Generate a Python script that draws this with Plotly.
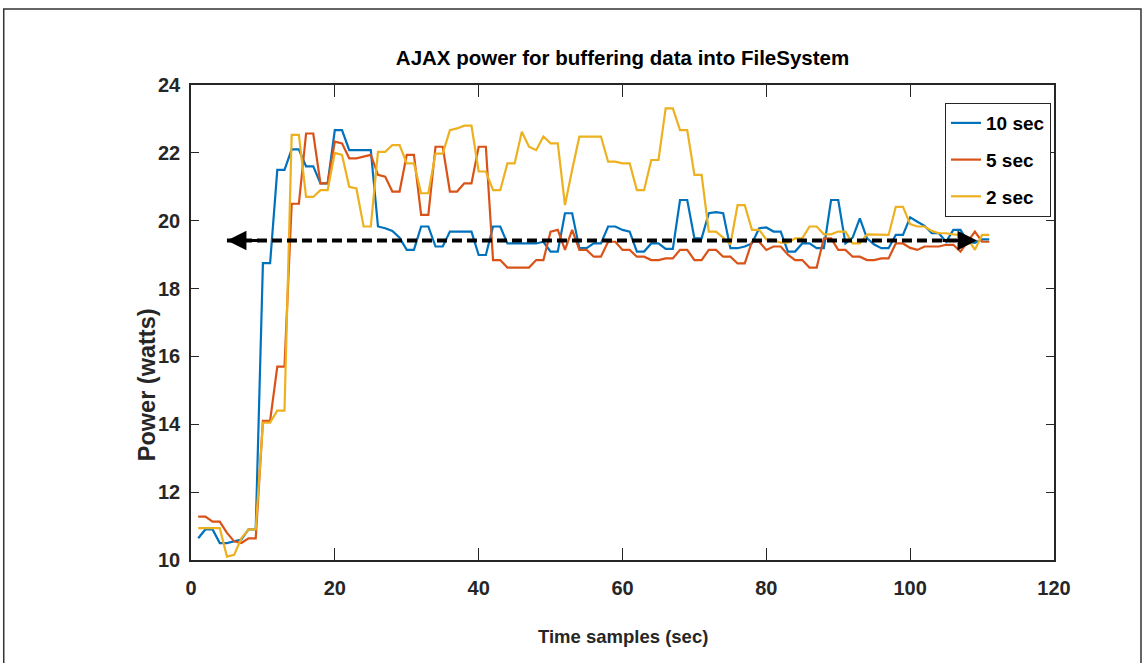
import plotly.graph_objects as go

t = list(range(1, 112))

p10 = [10.64, 10.9, 10.9, 10.5, 10.5, 10.55, 10.6, 10.9, 10.9, 18.75,
       18.75, 21.5, 21.5, 22.1, 22.1, 21.6, 21.6, 21.1, 21.1, 22.67,
       22.67, 22.08, 22.08, 22.08, 22.08, 19.83, 19.78, 19.7, 19.5, 19.14,
       19.14, 19.83, 19.83, 19.24, 19.24, 19.68, 19.68, 19.68, 19.68, 18.99,
       18.99, 19.83, 19.83, 19.33, 19.33, 19.33, 19.33, 19.33, 19.38, 19.09,
       19.09, 20.22, 20.22, 19.19, 19.19, 19.33, 19.33, 19.83, 19.83, 19.73,
       19.68, 19.09, 19.09, 19.33, 19.33, 19.17, 19.17, 20.61, 20.61, 19.48,
       19.48, 20.22, 20.25, 20.22, 19.19, 19.19, 19.24, 19.33, 19.78, 19.8,
       19.68, 19.68, 19.09, 19.09, 19.33, 19.33, 19.19, 19.19, 20.61, 20.61,
       19.33, 19.5, 20.07, 19.48, 19.3, 19.19, 19.19, 19.58, 19.58, 20.1,
       19.97, 19.85, 19.63, 19.63, 19.38, 19.73, 19.73, 19.38, 19.35, 19.45,
       19.45]

p5 = [11.28, 11.28, 11.13, 11.13, 10.8, 10.55, 10.5, 10.64, 10.64, 14.1,
      14.1, 15.7, 15.7, 20.5, 20.5, 22.57, 22.57, 21.1, 21.1, 22.33,
      22.28, 21.84, 21.84, 21.9, 21.94, 21.35, 21.3, 20.86, 20.86, 21.94,
      21.94, 20.17, 20.17, 22.18, 22.18, 20.86, 20.86, 21.1, 21.1, 22.18,
      22.18, 18.84, 18.84, 18.62, 18.62, 18.62, 18.62, 18.84, 18.84, 19.68,
      19.73, 19.14, 19.73, 19.14, 19.14, 18.94, 18.94, 19.38, 19.38, 19.14,
      19.14, 18.94, 18.94, 18.84, 18.84, 18.89, 18.89, 19.14, 19.14, 18.84,
      18.84, 19.14, 19.14, 18.94, 18.94, 18.74, 18.74, 19.38, 19.38, 19.14,
      19.24, 19.24, 19.0, 18.84, 18.84, 18.62, 18.62, 19.48, 19.48, 19.14,
      19.14, 18.94, 18.94, 18.84, 18.84, 18.89, 18.89, 19.33, 19.33, 19.2,
      19.14, 19.24, 19.24, 19.24, 19.29, 19.29, 19.09, 19.4, 19.68, 19.38,
      19.38]

p2 = [10.94, 10.94, 10.94, 10.94, 10.1, 10.15, 10.64, 10.9, 10.9, 14.05,
      14.05, 14.4, 14.4, 22.53, 22.53, 20.7, 20.7, 20.9, 20.9, 22.0,
      21.94, 21.0, 20.95, 19.83, 19.83, 22.03, 22.03, 22.23, 22.23, 21.69,
      21.69, 20.81, 20.81, 21.98, 21.98, 22.67, 22.72, 22.8, 22.8, 21.45,
      21.45, 20.9, 20.9, 21.69, 21.69, 22.62, 22.18, 22.08, 22.48, 22.28,
      22.28, 20.46, 21.5, 22.48, 22.48, 22.48, 22.48, 21.74, 21.74, 21.69,
      21.69, 20.9, 20.9, 21.79, 21.79, 23.31, 23.31, 22.67, 22.67, 21.35,
      21.35, 19.68, 19.68, 19.5, 19.3, 20.46, 20.46, 19.73, 19.73, 19.45,
      19.43, 19.35, 19.35, 19.48, 19.48, 19.83, 19.83, 19.6, 19.6, 19.68,
      19.68, 19.33, 19.33, 19.6, 19.6, 19.58, 19.58, 20.41, 20.41, 19.9,
      19.83, 19.83, 19.7, 19.63, 19.63, 19.6, 19.58, 19.48, 19.14, 19.58,
      19.58]

series_names = ["10 sec", "5 sec", "2 sec"]
series_colors = ["#0072BD", "#D95319", "#EDB120"]

arrow_x = [5, 109.3]
arrow_y = 19.42

x_ticks = [0, 20, 40, 60, 80, 100, 120]
y_ticks = [10, 12, 14, 16, 18, 20, 22, 24]

FONT = "Liberation Sans, Arial, Helvetica, sans-serif"
AX = "#262626"

fig = go.Figure()
for vals, name, col in zip([p10, p5, p2], series_names, series_colors):
    fig.add_trace(go.Scatter(x=t, y=vals, mode="lines", name=f"<b>{name}</b>",
                             legendgroup=name,
                             line=dict(color=col, width=2.2)))

fig.add_trace(go.Scatter(x=arrow_x, y=[arrow_y, arrow_y], mode="lines",
                         line=dict(color="black", width=4, dash="10px,5px"),
                         showlegend=False, hoverinfo="skip"))
# arrow heads
fig.add_annotation(x=arrow_x[0], y=arrow_y, ax=arrow_x[0] + 5, ay=arrow_y,
                   xref="x", yref="y", axref="x", ayref="y", text="",
                   showarrow=True, arrowhead=2, arrowsize=1.3, arrowwidth=3,
                   arrowcolor="black")
fig.add_annotation(x=arrow_x[1], y=arrow_y, ax=arrow_x[1] - 5, ay=arrow_y,
                   xref="x", yref="y", axref="x", ayref="y", text="",
                   showarrow=True, arrowhead=2, arrowsize=1.3, arrowwidth=3,
                   arrowcolor="black")

fig.add_annotation(text="<b>Time samples (sec)</b>", xref="paper", yref="paper",
                   x=0.5, y=-0.162, showarrow=False, yanchor="middle",
                   font=dict(family=FONT, size=18.5, color=AX))
fig.add_annotation(text="<b>Power (watts)</b>", xref="paper", yref="paper",
                   x=-0.051, y=0.37, showarrow=False, textangle=-90,
                   xanchor="center", yanchor="middle",
                   font=dict(family=FONT, size=23.5, color=AX))

# figure frame
fig.add_shape(type="rect", xref="paper", yref="paper",
              x0=-0.217, x1=1.1008, y0=-0.3, y1=1.16,
              line=dict(color="#333333", width=1.5), fillcolor="rgba(0,0,0,0)")

fig.update_layout(
    width=1146, height=663,
    margin=dict(l=191, r=92, t=85, b=103),
    paper_bgcolor="white", plot_bgcolor="white",
    title=dict(text="<b>AJAX power for buffering data into FileSystem</b>",
               x=0.5, xref="paper", xanchor="center",
               y=1 - 58 / 663, yanchor="middle",
               font=dict(family=FONT, size=20.5, color="black")),
    showlegend=True,
    legend=dict(x=0.8737, y=0.962, xanchor="left", yanchor="top",
                bgcolor="white", bordercolor=AX, borderwidth=1,
                font=dict(family=FONT, size=19, color="black"),
                tracegroupgap=9, itemwidth=30),
    font=dict(family=FONT),
)
fig.update_xaxes(range=[0, 120], tickvals=x_ticks,
                 ticktext=[f"<b>{v}</b>" for v in x_ticks],
                 showgrid=False, zeroline=False, showline=True, mirror="ticks",
                 linecolor=AX, linewidth=1.5, ticks="inside", ticklen=12,
                 tickcolor=AX, tickwidth=1, ticklabelstandoff=9,
                 tickfont=dict(family=FONT, size=20, color=AX))
fig.update_yaxes(range=[10, 24], tickvals=y_ticks,
                 ticktext=[f"<b>{v}</b>" for v in y_ticks],
                 showgrid=False, zeroline=False, showline=True, mirror="ticks",
                 linecolor=AX, linewidth=1.5, ticks="inside", ticklen=8,
                 tickcolor=AX, tickwidth=1, ticklabelstandoff=5,
                 tickfont=dict(family=FONT, size=20, color=AX))

fig.write_html("out.html")
